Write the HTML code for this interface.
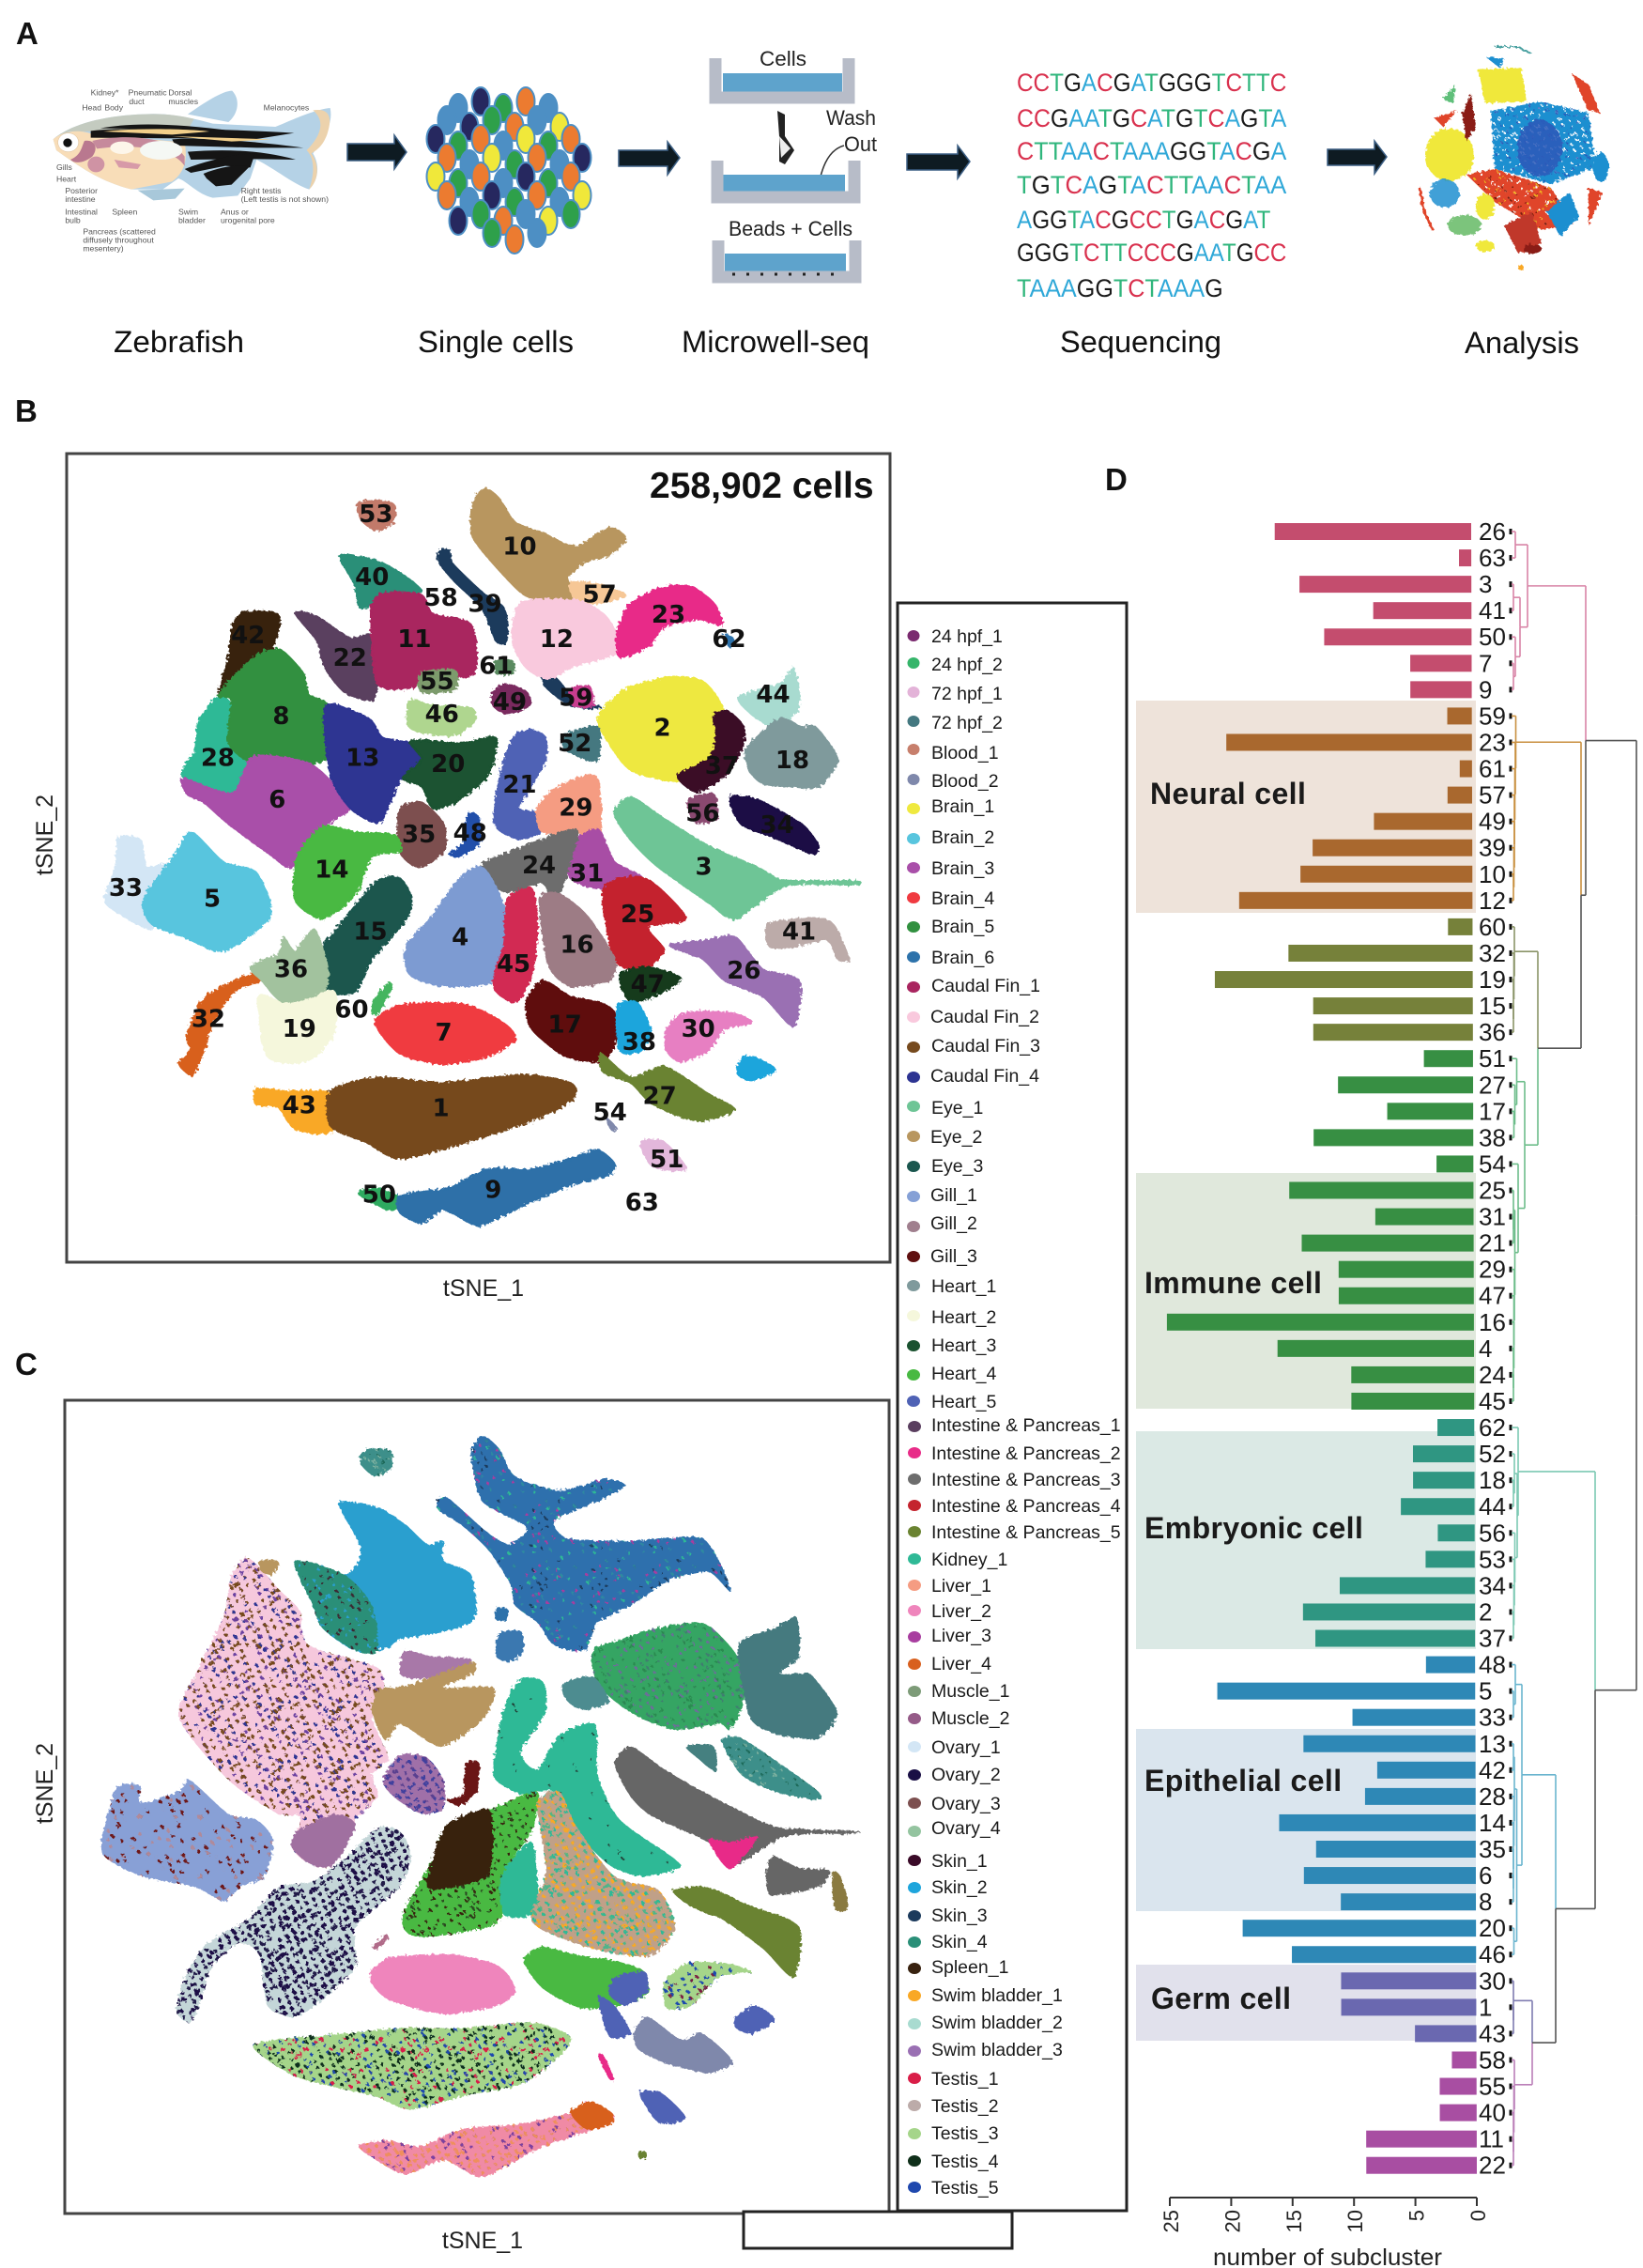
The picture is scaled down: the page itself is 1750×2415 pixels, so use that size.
<!DOCTYPE html>
<html lang="en">
<head>
<meta charset="utf-8">
<title>Zebrafish single-cell atlas figure</title>
<style>
html,body{margin:0;padding:0;background:#fff;}
svg{display:block;font-family:"Liberation Sans",sans-serif;}
.lg text{font-size:19.5px;fill:#1a1a1a;}
.pl{font-weight:bold;font-size:33px;fill:#111;}
.cap{font-size:32px;fill:#111;}
.tiny{font-size:26px;fill:#555;}
.cell-label{font-weight:bold;font-size:32px;fill:#1a1a1a;letter-spacing:.4px;}
</style>
</head>
<body>
<svg id="fig" xmlns="http://www.w3.org/2000/svg" width="1750" height="2415" viewBox="0 0 1750 2415">
<defs id="defs">
<filter id="rough" x="-2%" y="-2%" width="104%" height="104%"><feTurbulence type="fractalNoise" baseFrequency="0.3" numOctaves="2" seed="4" result="n"/><feDisplacementMap in="SourceGraphic" in2="n" scale="6"/></filter>
</defs>
<rect width="1750" height="2415" fill="#fff"/>

<text class="pl" x="17" y="47">A</text>
<text class="pl" x="16" y="449" font-size="30">B</text>
<text class="pl" x="16" y="1464">C</text>
<text class="pl" x="1177" y="522">D</text>

<!-- Panel A -->
<g id="panelA">
<g transform="translate(40,80) scale(.3333)">
<path d="M480,125 C530,90 590,50 622,50 C650,80 640,125 610,150 Z" fill="#b5d2e6"/>
<path d="M50,205 C90,170 180,130 340,125 C400,120 470,130 560,155 L760,165 C800,150 880,110 935,105 C945,150 920,200 880,250 C905,290 895,340 868,365 C820,350 760,300 700,270 L680,330 L640,385 L560,392 C510,380 480,340 450,330 L400,365 L300,365 C200,340 130,290 60,240 Z" fill="#b5d2e6"/>
<path d="M880,112 C930,105 945,130 925,190 C910,230 890,240 875,250 C905,290 895,340 868,365 C890,300 880,260 860,240 C900,200 925,150 880,112Z" fill="#ecd2ac"/>
<path d="M50,205 C90,170 180,130 340,125 C400,122 450,128 500,140 L480,175 L170,180 L100,180Z" fill="#c4cbc0"/>
<path d="M50,205 C80,180 130,170 180,190 L470,215 C480,270 470,310 430,340 L300,365 C200,340 130,290 60,240 Z" fill="#f8ddb8"/>
<path d="M170,178 C300,165 560,170 820,185 L700,204 L170,200Z" fill="#151515"/>
<path d="M200,170 C300,150 450,155 620,178 L400,172Z" fill="#151515"/>
<path d="M430,205 C500,200 650,205 850,232 L700,232 L440,225Z" fill="#151515"/>
<path d="M210,180 C350,165 520,175 550,180 L430,190Z M430,195 L750,205 L620,212Z" fill="#f2cf8a"/>
<path d="M480,245 C600,235 720,240 825,270 L700,268 L490,270Z" fill="#151515"/>
<path d="M470,300 C550,270 640,250 695,250 L680,295 L600,290 L490,312Z" fill="#151515"/>
<path d="M530,315 C590,290 650,285 680,290 L620,350 L570,355 L540,330Z" fill="#151515"/>
<ellipse cx="98" cy="215" rx="33" ry="30" fill="#fff" stroke="#c9a87c"/>
<circle cx="96" cy="216" r="14" fill="#111"/>
<path d="M150,210 C185,205 195,235 175,260 C150,280 120,285 105,270 C140,255 140,230 150,210Z" fill="#b9788f"/>
<ellipse cx="187" cy="285" rx="27" ry="25" fill="#cf93a4"/>
<path d="M175,210 C260,190 420,190 470,260 L470,290 C430,230 300,220 190,235Z" fill="#c68a9c"/>
<ellipse cx="270" cy="232" rx="38" ry="20" fill="#fdf6ea"/>
<ellipse cx="395" cy="240" rx="68" ry="30" fill="#f5f8f4"/>
<path d="M245,270 L330,285 L320,300 L260,295Z" fill="#d79aa8"/>
<path d="M320,368 L470,362 L440,395 L370,400Z" fill="#a8c8da"/>
<text class="tiny" x="170" y="65">Kidney*</text>
<text class="tiny" x="142" y="112">Head</text>
<text class="tiny" x="214" y="112">Body</text>
<text class="tiny" x="290" y="65">Pneumatic</text>
<text class="tiny" x="292" y="93">duct</text>
<text class="tiny" x="418" y="65">Dorsal</text>
<text class="tiny" x="418" y="93">muscles</text>
<text class="tiny" x="722" y="112">Melanocytes</text>
<text class="tiny" x="60" y="303">Gills</text>
<text class="tiny" x="60" y="340">Heart</text>
<text class="tiny" x="88" y="378">Posterior</text>
<text class="tiny" x="88" y="405">intestine</text>
<text class="tiny" x="88" y="445">Intestinal</text>
<text class="tiny" x="88" y="472">bulb</text>
<text class="tiny" x="238" y="445">Spleen</text>
<text class="tiny" x="450" y="445">Swim</text>
<text class="tiny" x="450" y="472">bladder</text>
<text class="tiny" x="585" y="445">Anus or</text>
<text class="tiny" x="585" y="472">urogenital pore</text>
<text class="tiny" x="650" y="378">Right testis</text>
<text class="tiny" x="650" y="405">(Left testis is not shown)</text>
<text class="tiny" x="145" y="508">Pancreas (scattered</text>
<text class="tiny" x="145" y="535">diffusely throughout</text>
<text class="tiny" x="145" y="562">mesentery)</text>
</g>
<g id="cellsGroup"></g>
<g transform="translate(-2,0)"><path d="M372,153H422V144L435,162L422,180V171H372Z" fill="#0e1b22" stroke="#3c5f84" stroke-width="1.5"/></g>
<g transform="translate(-3,0)"><path d="M662,160H714V151L727,168L714,186V177H662Z" fill="#0e1b22" stroke="#3c5f84" stroke-width="1.5"/></g>
<g transform="translate(-5,0)"><path d="M971,164H1025V155L1038,172L1025,190V181H971Z" fill="#0e1b22" stroke="#3c5f84" stroke-width="1.5"/></g>
<g transform="translate(-6,0)"><path d="M1420,159H1470V150L1483,167L1470,185V176H1420Z" fill="#0e1b22" stroke="#3c5f84" stroke-width="1.5"/></g>

<g transform="translate(-4,0)">
<g>
<rect x="774" y="78" width="127" height="26" fill="#5ea3cc"/>
<path d="M766,62V104H908V62" fill="none" stroke="#b7bcc8" stroke-width="13"/>
<text x="838" y="70" font-size="22" text-anchor="middle" fill="#222" textLength="50" lengthAdjust="spacingAndGlyphs">Cells</text>
</g>
<g><path d="M832,118L840,122V145L850,160L840,175L834,172V145Z" fill="#222"/><path d="M834,145L846,158L836,168Z" fill="#eee"/></g>
<path d="M903,155C885,160 878,180 873,212" fill="none" stroke="#333" stroke-width="1.5"/>
<text x="884" y="133" font-size="22" fill="#222" textLength="53" lengthAdjust="spacingAndGlyphs">Wash</text>
<text x="903" y="161" font-size="22" fill="#222" textLength="35" lengthAdjust="spacingAndGlyphs">Out</text>
<g>
<rect x="774" y="186" width="130" height="23" fill="#5ea3cc"/>
<path d="M768,171V210H914V171" fill="none" stroke="#b7bcc8" stroke-width="13"/>
</g>
<text x="780" y="251" font-size="22" fill="#222" textLength="132" lengthAdjust="spacingAndGlyphs">Beads + Cells</text>
<g>
<rect x="776" y="270" width="129" height="21" fill="#5ea3cc"/>
<path d="M769,256V295H915V256" fill="none" stroke="#b7bcc8" stroke-width="13"/>
<path d="M784,292h118" stroke="#222" stroke-width="3" stroke-dasharray="3 12"/>
</g>
</g>
<g id="seqGroup"></g>
<g transform="translate(-8,0)" filter="url(#rough)">
<path d="M1582,74L1628,72L1634,108L1590,110Z" fill="#f0e83a"/>
<path d="M1596,118L1650,108L1700,120L1708,178L1660,196L1600,180Z" fill="url(#pAnalysisB)"/>
<ellipse cx="1648" cy="158" rx="24" ry="30" fill="#2c58b8" opacity=".85"/>
<ellipse cx="1552" cy="165" rx="26" ry="28" fill="#f0e83a"/>
<path d="M1570,186L1600,180L1660,200L1684,238L1650,245L1600,215Z" fill="url(#pAnalysisR)"/>
<ellipse cx="1547" cy="206" rx="16" ry="15" fill="#1e8fd0" opacity=".85"/>
<ellipse cx="1590" cy="220" rx="10" ry="14" fill="#f0e83a"/>
<ellipse cx="1568" cy="240" rx="18" ry="11" fill="#7cc47c"/>
<ellipse cx="1713" cy="178" rx="8" ry="16" fill="#1e8fd0"/>
<path d="M1682,78L1700,90L1712,120L1700,118Z" fill="#e0452a"/>
<path d="M1565,120L1575,100L1580,135L1570,150Z" fill="#8a1a12"/>
<path d="M1592,62L1610,62L1605,72Z" fill="#1e8fd0"/>
<path d="M1545,105L1558,90L1556,110Z" fill="#5fbf7a"/>
<path d="M1655,225L1680,205L1690,230L1670,252Z" fill="#1e8fd0"/>
<path d="M1600,50L1625,50L1640,58" fill="none" stroke="#4aa0a0" stroke-width="2"/>
<path d="M1520,200L1525,225L1534,245" fill="none" stroke="#e0452a" stroke-width="3"/>
<path d="M1535,125L1560,118L1545,135" fill="#e0452a"/>
<path d="M1700,200L1715,205L1700,240Z" fill="#e0452a"/>
<path d="M1610,240L1640,225L1650,260L1625,270Z" fill="#c0392b"/>
<ellipse cx="1590" cy="262" rx="10" ry="6" fill="#f0e83a"/>
<ellipse cx="1640" cy="265" rx="10" ry="5" fill="#8a1a12"/>
<ellipse cx="1628" cy="285" rx="3" ry="3" fill="#f9a825"/>
</g>
<text class="cap" x="121" y="375" textLength="139" lengthAdjust="spacingAndGlyphs">Zebrafish</text>
<text class="cap" x="445" y="375" textLength="166" lengthAdjust="spacingAndGlyphs">Single cells</text>
<text class="cap" x="726" y="375" textLength="200" lengthAdjust="spacingAndGlyphs">Microwell-seq</text>
<text class="cap" x="1129" y="375" textLength="172" lengthAdjust="spacingAndGlyphs">Sequencing</text>
<text class="cap" x="1560" y="376" textLength="122" lengthAdjust="spacingAndGlyphs">Analysis</text>
</g>

<!-- Panel B -->
<g id="tsneB">
<g id="tsneBShapes" filter="url(#rough)"></g>
<g id="tsneBLabels"></g>
<rect x="71" y="483" width="877" height="861" fill="none" stroke="#444" stroke-width="3"/>
<text x="692" y="530" font-size="39" font-weight="bold" fill="#111">258,902 cells</text>
<text x="515" y="1380" font-size="25" text-anchor="middle" fill="#222">tSNE_1</text>
<text transform="translate(56,889) rotate(-90)" font-size="25" text-anchor="middle" fill="#222">tSNE_2</text>
</g>

<!-- Panel C -->
<g id="tsneC">
<g id="tsneCShapes" filter="url(#rough)"></g>
<rect x="69" y="1491" width="878" height="866" fill="none" stroke="#444" stroke-width="3"/>
<text x="514" y="2394" font-size="25" text-anchor="middle" fill="#222">tSNE_1</text>
<text transform="translate(56,1899) rotate(-90)" font-size="25" text-anchor="middle" fill="#222">tSNE_2</text>
</g>

<!-- Legend -->
<rect x="792" y="2355" width="286" height="39" fill="#fff" stroke="#222" stroke-width="3"/>
<g class="lg">
<rect x="956" y="642" width="244" height="1712" fill="#fff" stroke="#222" stroke-width="3"/>
<g><ellipse cx="973" cy="677" rx="6.5" ry="6" fill="#7a2a6f"/><text x="992" y="684">24 hpf_1</text></g>
<g><ellipse cx="973" cy="706" rx="6.5" ry="6" fill="#35b56a"/><text x="992" y="714">24 hpf_2</text></g>
<g><ellipse cx="973" cy="737" rx="6.5" ry="6" fill="#e3b3d8"/><text x="992" y="745">72 hpf_1</text></g>
<g><ellipse cx="973" cy="768" rx="6.5" ry="6" fill="#447880"/><text x="992" y="776">72 hpf_2</text></g>
<g><ellipse cx="973" cy="798" rx="6.5" ry="6" fill="#c77f6c"/><text x="992" y="808">Blood_1</text></g>
<g><ellipse cx="973" cy="830" rx="6.5" ry="6" fill="#7f88ab"/><text x="992" y="838">Blood_2</text></g>
<g><ellipse cx="973" cy="861" rx="7" ry="6" fill="#efe93f"/><text x="992" y="865">Brain_1</text></g>
<g><ellipse cx="973" cy="893" rx="7" ry="6" fill="#58c5de"/><text x="992" y="898">Brain_2</text></g>
<g><ellipse cx="973" cy="924" rx="7" ry="6" fill="#a94fa9"/><text x="992" y="931">Brain_3</text></g>
<g><ellipse cx="973" cy="956" rx="7" ry="6" fill="#f03a40"/><text x="992" y="963">Brain_4</text></g>
<g><ellipse cx="973" cy="987" rx="7" ry="6" fill="#31903f"/><text x="992" y="993">Brain_5</text></g>
<g><ellipse cx="973" cy="1019" rx="7" ry="6" fill="#2d72ab"/><text x="992" y="1026">Brain_6</text></g>
<g><ellipse cx="973" cy="1051" rx="7" ry="6" fill="#a9255f"/><text x="992" y="1056">Caudal Fin_1</text></g>
<g><ellipse cx="973" cy="1083" rx="7" ry="6" fill="#f9c9dd"/><text x="991" y="1089">Caudal Fin_2</text></g>
<g><ellipse cx="973" cy="1115" rx="7" ry="6" fill="#764a1e"/><text x="992" y="1120">Caudal Fin_3</text></g>
<g><ellipse cx="973" cy="1147" rx="7" ry="6" fill="#2d3492"/><text x="991" y="1152">Caudal Fin_4</text></g>
<g><ellipse cx="973" cy="1178" rx="7" ry="6" fill="#6ec596"/><text x="992" y="1186">Eye_1</text></g>
<g><ellipse cx="973" cy="1210" rx="7" ry="6" fill="#b8965f"/><text x="991" y="1217">Eye_2</text></g>
<g><ellipse cx="973" cy="1242" rx="7" ry="6" fill="#1a564e"/><text x="992" y="1248">Eye_3</text></g>
<g><ellipse cx="973" cy="1274" rx="7" ry="6" fill="#85a0d6"/><text x="991" y="1279">Gill_1</text></g>
<g><ellipse cx="973" cy="1306" rx="7" ry="6" fill="#a07f8e"/><text x="991" y="1309">Gill_2</text></g>
<g><ellipse cx="973" cy="1338" rx="7" ry="6" fill="#5f1010"/><text x="991" y="1344">Gill_3</text></g>
<g><ellipse cx="973" cy="1369" rx="7" ry="6" fill="#7f9a9c"/><text x="992" y="1376">Heart_1</text></g>
<g><ellipse cx="973" cy="1401" rx="7" ry="6" fill="#f5f7dc"/><text x="992" y="1409">Heart_2</text></g>
<g><ellipse cx="973" cy="1433" rx="7" ry="6" fill="#1a5230"/><text x="992" y="1439">Heart_3</text></g>
<g><ellipse cx="973" cy="1464" rx="7" ry="6" fill="#48b942"/><text x="992" y="1469">Heart_4</text></g>
<g><ellipse cx="973" cy="1492" rx="7" ry="6" fill="#4f62b5"/><text x="992" y="1499">Heart_5</text></g>
<g><ellipse cx="974" cy="1519" rx="7" ry="6" fill="#5a3f5f"/><text x="992" y="1524">Intestine &amp; Pancreas_1</text></g>
<g><ellipse cx="974" cy="1547" rx="7" ry="6" fill="#e82c88"/><text x="992" y="1554">Intestine &amp; Pancreas_2</text></g>
<g><ellipse cx="974" cy="1575" rx="7" ry="6" fill="#6d6d6d"/><text x="992" y="1582">Intestine &amp; Pancreas_3</text></g>
<g><ellipse cx="974" cy="1603" rx="7" ry="6" fill="#c4242e"/><text x="992" y="1610">Intestine &amp; Pancreas_4</text></g>
<g><ellipse cx="974" cy="1631" rx="7" ry="6" fill="#6a8331"/><text x="992" y="1638">Intestine &amp; Pancreas_5</text></g>
<g><ellipse cx="974" cy="1660" rx="7" ry="6" fill="#2fb996"/><text x="992" y="1667">Kidney_1</text></g>
<g><ellipse cx="974" cy="1688" rx="7" ry="6" fill="#f59c82"/><text x="992" y="1695">Liver_1</text></g>
<g><ellipse cx="974" cy="1715" rx="7" ry="6" fill="#ef85bc"/><text x="992" y="1722">Liver_2</text></g>
<g><ellipse cx="974" cy="1743" rx="7" ry="6" fill="#a83e9f"/><text x="992" y="1748">Liver_3</text></g>
<g><ellipse cx="974" cy="1772" rx="7" ry="6" fill="#d8601f"/><text x="992" y="1778">Liver_4</text></g>
<g><ellipse cx="974" cy="1801" rx="7" ry="6" fill="#7d9b78"/><text x="992" y="1807">Muscle_1</text></g>
<g><ellipse cx="974" cy="1830" rx="7" ry="6" fill="#955b88"/><text x="992" y="1836">Muscle_2</text></g>
<g><ellipse cx="974" cy="1860" rx="7" ry="6" fill="#d3e6f5"/><text x="992" y="1867">Ovary_1</text></g>
<g><ellipse cx="974" cy="1890" rx="7" ry="6" fill="#1a0f45"/><text x="992" y="1896">Ovary_2</text></g>
<g><ellipse cx="974" cy="1920" rx="7" ry="6" fill="#7d5050"/><text x="992" y="1927">Ovary_3</text></g>
<g><ellipse cx="974" cy="1950" rx="7" ry="6" fill="#94c4a0"/><text x="992" y="1953">Ovary_4</text></g>
<g><ellipse cx="974" cy="1981" rx="7" ry="6" fill="#3a0a28"/><text x="992" y="1988">Skin_1</text></g>
<g><ellipse cx="974" cy="2010" rx="7" ry="6" fill="#1ea5dc"/><text x="992" y="2016">Skin_2</text></g>
<g><ellipse cx="974" cy="2040" rx="7" ry="6" fill="#1b3a5c"/><text x="992" y="2046">Skin_3</text></g>
<g><ellipse cx="974" cy="2068" rx="7" ry="6" fill="#2a8f78"/><text x="992" y="2074">Skin_4</text></g>
<g><ellipse cx="974" cy="2096" rx="7" ry="6" fill="#38220f"/><text x="992" y="2101">Spleen_1</text></g>
<g><ellipse cx="974" cy="2125" rx="7" ry="6" fill="#f9a825"/><text x="992" y="2131">Swim bladder_1</text></g>
<g><ellipse cx="974" cy="2155" rx="7" ry="6" fill="#a8dbd0"/><text x="992" y="2160">Swim bladder_2</text></g>
<g><ellipse cx="974" cy="2184" rx="7" ry="6" fill="#9a70b3"/><text x="992" y="2189">Swim bladder_3</text></g>
<g><ellipse cx="974" cy="2213" rx="7" ry="6" fill="#d91e48"/><text x="992" y="2220">Testis_1</text></g>
<g><ellipse cx="974" cy="2242" rx="7" ry="6" fill="#bcaba9"/><text x="992" y="2249">Testis_2</text></g>
<g><ellipse cx="974" cy="2272" rx="7" ry="6" fill="#a5d58a"/><text x="992" y="2278">Testis_3</text></g>
<g><ellipse cx="974" cy="2301" rx="7" ry="6" fill="#0f2f1a"/><text x="992" y="2308">Testis_4</text></g>
<g><ellipse cx="974" cy="2329" rx="7" ry="6" fill="#1f48ae"/><text x="992" y="2336">Testis_5</text></g>
</g>

<!-- Panel D -->
<g id="panelD">
<rect x="1210" y="746" width="362" height="226" fill="#eee3da"/>
<rect x="1210" y="1249" width="362" height="251" fill="#e0e8dc"/>
<rect x="1210" y="1524" width="362" height="232" fill="#dbe9e5"/>
<rect x="1210" y="1841" width="362" height="194" fill="#dae5ee"/>
<rect x="1210" y="2092" width="362" height="81" fill="#e1e1ec"/>
<g id="bars"></g>
<g id="barLabels"></g>
<g id="dendro"></g>
<g id="xAxis"></g>
<text class="cell-label" x="1225" y="856">Neural cell</text>
<text class="cell-label" x="1219" y="1377">Immune cell</text>
<text class="cell-label" x="1219" y="1638">Embryonic cell</text>
<text class="cell-label" x="1219" y="1907">Epithelial cell</text>
<text class="cell-label" x="1226" y="2139">Germ cell</text>
<text x="1292" y="2412" font-size="25" fill="#222" textLength="244" lengthAdjust="spacingAndGlyphs">number of subcluster</text>
</g>
</svg>

<script>
/* ---------- Panel D data ---------- */
const barCategories = ['26','63','3','41','50','7','9','59','23','61','57','49','39','10','12','60','32','19','15','36','51','27','17','38','54','25','31','21','29','47','16','4','24','45','62','52','18','44','56','53','34','2','37','48','5','33','13','42','28','14','35','6','8','20','46','30','1','43','58','55','40','11','22'];
const barValues = [16,1,14,8,12,5,5,2,20,1,2,8,13,14,19,2,15,21,13,13,4,11,7,13,3,15,8,14,11,11,25,16,10,10,3,5,5,6,3,4,11,14,13,4,21,10,14,8,9,16,13,14,11,19,15,11,11,5,2,3,3,9,9];
const barGroups = ['pink','pink','pink','pink','pink','pink','pink','brown','brown','brown','brown','brown','brown','brown','brown','olive','olive','olive','olive','olive','green','green','green','green','green','green','green','green','green','green','green','green','green','green','teal','teal','teal','teal','teal','teal','teal','teal','teal','blue','blue','blue','blue','blue','blue','blue','blue','blue','blue','blue','blue','indigo','indigo','indigo','purple','purple','purple','purple','purple'];
const groupBarColors = {pink:'#c44d6e',brown:'#a9682e',olive:'#76813a',green:'#378f43',teal:'#2f9682',blue:'#2e88b6',indigo:'#6a68b0',purple:'#a84ea2'};
const groupLineColors = {pink:'#d884a6',brown:'#c98f3f',olive:'#8a9468',green:'#6dbd8a',teal:'#7cc9b3',blue:'#6ab5cf',indigo:'#7f7cb0',purple:'#bb7fb8'};
const xTickLabels = [25,20,15,10,5,0];
/* dendrogram: [merge height, child, child]; leaves are cluster ids */
const cladePink = [16,[3,'26','63'],[8,[1,'3','41'],[3,'50',[1,'7','9']]]];
const cladeBrown = [3.5,'59',[3,'23',[2.5,'61',[2,'57',[2,'49',[1.5,'39',[1,'10','12']]]]]]];
const cladeOlive = [2,'60',[1.5,'32',[1,'19',[1,'15','36']]]];
const cladeGreenA = [4.5,'51',[2.5,'27',[1.5,'17','38']]];
const cladeGreenB = [6,'54',[2.5,[1,'25',[1,'31','21']],[2,'29',[1.5,'47',[1.5,'16',[1,'4',[1,'24','45']]]]]]];
const cladeGreen = [13,cladeGreenA,cladeGreenB];
const cladeTeal = [6,'62',[5,[2,'52',[1,'18','44']],[2.5,'56',[2,'53',[1.5,'34',[1,'2','37']]]]]];
const cladeBlue = [10,[3,'48',[1,'5','33']],[4.5,[2,[1,'13','42'],[1.5,'28',[1,'14',[1,'35',[1,'6','8']]]]],[1.5,'20','46']]];
const cladeGerm = [1,'30',[1,'1','43']];
const cladePurple = [2,'58',[1.5,'55',[1,'40',[1,'11','22']]]];
const dendrogramTree = [132,[78,cladePink,[73,cladeBrown,[27,cladeOlive,cladeGreen]]],[88,cladeTeal,[46,cladeBlue,[21,cladeGerm,cladePurple]]]];

/* ---------- Panel B / C data (tSNE units) ---------- */
const clusterOutlines = [
['53','#c27a6a',[565,115,600,110,630,118,628,150,598,165,570,145]],
['10','#b8965f',[775,110,795,88,820,105,850,150,900,170,960,195,1020,160,1050,180,1020,210,975,225,945,255,960,290,900,295,860,280,800,215,770,170]],
['57','#f6c796',[950,262,1000,265,1050,285,1000,300,960,295]],
['39','#1b3a5c',[712,205,730,200,735,225,790,280,830,310,835,370,815,370,790,310,740,260,712,225]],
['40','#2a8f78',[532,212,600,222,650,250,680,280,620,285,570,310,558,265]],
['22','#5a3f5f',[450,318,490,325,550,365,590,360,600,440,590,480,540,465,505,420,490,370]],
['11','#a9255f',[590,300,620,280,680,285,700,320,770,340,775,430,700,440,650,460,600,450,590,380]],
['42','#38220f',[335,350,355,318,420,322,410,380,360,420,312,470,330,400]],
['28','#2fb996',[275,520,310,475,335,490,330,560,375,590,340,650,300,645,245,620,270,570]],
['8','#31903f',[312,470,370,405,420,385,465,430,475,470,510,490,515,580,470,600,380,600,330,560,335,480]],
['6','#a94fa9',[245,625,300,645,340,650,375,585,470,595,515,630,550,680,510,710,480,760,440,790,410,770,330,710,285,670,255,655]],
['13','#2d3492',[505,490,585,515,610,550,670,560,680,590,640,630,610,700,590,705,550,680,515,620]],
['20','#1a5230',[660,555,750,560,815,550,800,620,740,670,700,680,680,640,645,625,680,590]],
['46','#afd68f',[660,480,700,490,770,495,775,520,740,545,680,540,655,525]],
['55','#7d9b6c',[680,430,740,425,740,460,680,465]],
['61','#5a8a60',[815,408,845,408,845,430,815,430]],
['49','#7a2a5f',[810,465,835,450,870,465,875,490,835,505,810,490]],
['59a','#1b3a5c',[900,430,925,440,960,480,1000,490,1000,495,950,490,905,455]],
['59','#c83e8f',[950,460,985,455,990,490,955,490]],
['12','#f9c9dd',[845,370,860,300,960,295,1010,320,1035,360,1030,395,960,415,910,440,870,420]],
['23','#e82c88',[1035,350,1060,300,1120,270,1170,270,1210,300,1225,340,1180,330,1120,345,1090,380,1040,400]],
['62','#2d72ab',[1228,360,1245,365,1240,382]],
['2','#eee840',[1000,510,1050,460,1130,438,1190,445,1225,490,1230,540,1210,610,1140,630,1060,610,1020,560]],
['44','#a8dbd0',[1255,475,1330,450,1355,420,1365,490,1330,530,1290,515]],
['37','#3a0a28',[1210,510,1235,500,1265,530,1260,570,1230,620,1180,650,1145,620,1200,590,1215,550]],
['34','#1a0f45',[1240,660,1290,665,1370,710,1400,750,1390,765,1320,735,1260,710]],
['18','#7f9a9c',[1270,570,1330,515,1370,530,1395,530,1435,590,1400,640,1350,640,1300,635,1275,610]],
['56','#8a4a70',[1165,665,1210,655,1215,700,1175,705]],
['52','#447880',[940,545,1000,530,1000,590,980,590,940,570]],
['21','#4f62b5',[850,545,880,535,905,550,905,590,880,640,855,680,890,690,900,720,860,738,815,715,815,660,830,590]],
['29','#f59c82',[890,680,930,640,995,620,1005,690,1000,735,960,725,900,725]],
['31','#a84ea5',[950,750,1000,720,1030,780,1080,810,1010,830,950,810]],
['24','#6d6d6d',[785,790,870,750,960,720,950,780,920,860,900,820,830,835]],
['25','#c4242e',[1010,830,1085,810,1160,885,1090,900,1120,945,1080,980,1030,960]],
['16','#9d7c85',[895,850,930,840,980,880,1030,960,1020,1000,950,1010,910,970]],
['4','#7d9bd2',[650,940,700,880,750,810,790,790,825,850,835,920,810,1000,720,1010,660,990]],
['45','#d22a52',[835,850,880,830,890,900,880,990,850,1040,810,1010,830,930]],
['48','#2050aa',[730,765,755,745,765,690,785,700,785,745,750,770]],
['35','#7d5050',[640,685,680,670,720,710,720,760,675,790,640,760]],
['14','#48b942',[455,770,500,715,560,725,630,730,640,760,590,770,560,840,500,885,450,850]],
['33','#d3e6f5',[130,735,170,740,180,790,220,785,180,850,190,905,130,875,105,850,125,790]],
['5','#58c5de',[175,850,230,770,262,725,320,780,380,800,405,880,320,945,250,920,190,895]],
['15','#1a564e',[495,950,545,880,600,815,640,810,662,850,650,890,590,960,560,1020,510,1020]],
['32','#d8601f',[380,985,320,1010,280,1040,255,1100,260,1130,240,1155,265,1175,285,1130,300,1080,340,1020,390,1000]],
['19','#f5f7dc',[385,1030,430,1040,520,1020,520,1100,470,1150,400,1140]],
['36','#a2c29e',[370,975,420,950,430,920,450,945,485,905,510,980,500,1020,430,1040,390,1000]],
['60','#45b55f',[595,1035,620,1005,625,1015,600,1060,590,1060]],
['7','#f03b40',[595,1075,650,1045,760,1045,830,1080,850,1110,800,1140,720,1155,640,1135]],
['17','#5f1010',[870,1040,900,1000,950,1030,1000,1040,1030,1060,1030,1120,1000,1150,940,1140,880,1090]],
['47','#123a1f',[1040,990,1090,975,1150,995,1120,1020,1060,1040]],
['38','#1ea5dc',[1035,1050,1070,1040,1095,1090,1080,1130,1040,1130]],
['30','#e77fc2',[1125,1090,1160,1060,1240,1060,1280,1078,1230,1090,1200,1130,1150,1150,1125,1130]],
['64','#1da5dc',[1255,1155,1275,1140,1322,1165,1280,1185,1255,1175]],
['26','#9a70b3',[1130,935,1200,925,1250,920,1300,980,1365,1000,1355,1085,1300,1030,1230,1000,1190,960]],
['41','#bcaba9',[1310,895,1400,885,1430,900,1455,960,1435,960,1415,925,1340,940,1310,935]],
['3','#6ec596',[1030,690,1060,660,1120,700,1200,750,1290,790,1340,815,1465,815,1465,822,1340,825,1250,885,1200,855,1110,790,1060,740]],
['27','#6a8331',[1005,1135,1060,1180,1120,1160,1200,1210,1248,1240,1180,1260,1100,1230,1060,1190,1010,1170]],
['43','#f9a825',[380,1200,430,1205,515,1210,515,1280,450,1275,420,1235,380,1230]],
['1','#764a1e',[515,1205,600,1180,720,1190,860,1175,950,1190,955,1220,880,1260,760,1300,640,1330,580,1300,515,1270]],
['54','#7f88ab',[1015,1255,1032,1272,1026,1278]],
['51','#e3b7db',[1078,1300,1120,1300,1160,1350,1100,1345]],
['50','#2faa60',[565,1395,600,1385,650,1410,620,1425]],
['9','#2d6fa8',[640,1400,690,1390,730,1385,800,1350,880,1350,950,1330,1000,1315,1030,1340,1020,1360,950,1380,880,1410,820,1440,780,1455,720,1425,680,1450,640,1430]]
];
const clusterLabelNames = ['53','10','57','58','39','40','11','12','23','62','42','22','61','55','49','59','46','8','2','44','52','28','13','20','18','21','6','29','56','37','34','35','48','14','3','24','31','33','5','25','15','41','4','16','45','36','26','47','60','32','19','30','17','7','38','27','43','1','54','51','9','50','63'];
const clusterLabelX = [597,858,1003,715,795,590,667,925,1128,1238,365,550,815,708,840,960,717,425,1117,1318,958,310,573,728,1353,858,418,960,1190,1225,1325,675,768,517,1192,893,980,143,300,1072,587,1365,750,962,847,443,1265,1090,553,293,458,1182,940,720,1075,1112,458,715,1022,1125,810,603,1080];
const clusterLabelY = [133,193,282,288,300,250,365,365,320,365,358,400,415,443,482,474,504,508,530,468,558,585,585,597,590,635,663,678,688,600,710,727,725,793,787,785,800,827,847,875,908,908,918,932,968,977,980,1005,1052,1070,1088,1088,1080,1095,1112,1212,1230,1235,1243,1330,1387,1395,1410];
const sampleRegions = [
['embryo-islet','url(#pMini)',[570,130,590,120,625,125,625,155,595,170,570,150]],
['brain-6-neural','url(#pBlueTop)',[770,130,790,98,820,120,850,170,930,195,1010,175,1050,185,1020,205,975,225,920,250,945,280,1050,285,1120,280,1190,280,1225,330,1240,375,1200,340,1130,355,1060,400,1000,430,975,480,920,470,890,430,850,400,840,360,800,300,750,255,710,230,710,210,730,210,800,270,840,290,870,260,790,215]],
['skin-2','#2a9fcf',[530,218,600,225,650,255,690,290,720,285,720,320,770,345,775,425,700,450,640,460,620,475,560,480,500,440,480,395,450,320,540,345,570,300]],
['skin-4','url(#pTeal)',[450,320,540,345,590,400,600,480,560,480,500,440,480,395]],
['neural-patch-a','#2d72ab',[815,405,835,405,835,425,815,425]],
['neural-patch-b','#3a78b0',[820,450,860,445,865,480,840,500,815,490]],
['caudal-fin-mix','url(#pPink)',[335,345,360,315,385,330,420,370,460,410,475,470,600,510,610,560,590,600,620,670,590,700,600,740,560,780,520,860,480,860,445,830,460,775,420,770,330,710,240,600,270,520,320,420]],
['eye-2-cap','#b8965f',[385,320,420,322,410,345,390,340]],
['muscle-2-top','#a878a8',[650,480,700,490,770,495,745,520,670,530,640,520]],
['eye-2','#b8965f',[600,550,660,540,770,500,775,520,720,545,810,545,800,590,770,620,720,650,690,640,640,610,615,640,590,590]],
['muscle-2-mid','url(#pViolet)',[610,710,640,665,690,670,720,710,720,760,680,770,630,740]],
['muscle-2-low','#a070a0',[455,800,520,770,560,790,520,860,480,860,445,830]],
['gill-3-hook','#6a1515',[725,745,755,735,760,680,785,680,780,730,750,755]],
['gill-1','url(#pGill)',[110,770,130,720,170,720,170,750,240,730,260,710,330,770,380,780,410,815,395,880,350,900,320,925,270,900,170,880,100,840]],
['ovary','url(#pOvary)',[250,1060,290,1000,360,960,420,900,480,890,540,850,600,795,640,800,660,840,640,900,560,970,560,1040,500,1100,450,1130,400,1110,385,1020,350,1000,300,1040,280,1100,260,1140,235,1120]],
['liver-2','#ef85bc',[585,1060,620,1025,740,1020,820,1040,850,1080,820,1110,720,1125,620,1100]],
['liver-sliver','#b06a88',[590,1005,615,985,620,990,600,1010]],
['testis','url(#pTestis)',[375,1180,420,1170,540,1160,640,1150,760,1150,880,1140,950,1165,930,1200,860,1250,760,1270,660,1295,590,1270,460,1240,390,1200]],
['liver-low','url(#pSalmon)',[565,1358,620,1350,680,1360,750,1330,860,1320,950,1300,980,1280,1025,1300,1025,1320,960,1340,880,1370,790,1415,720,1385,650,1410,590,1380]],
['liver-4-head','#d8601f',[950,1300,985,1280,1025,1300,1025,1320,980,1330]],
['ip2-line','#e82c88',[1000,1200,1010,1198,1030,1240,1020,1240]],
['heart-5-low','#4f62b5',[1075,1265,1115,1265,1160,1310,1110,1318]],
['ip5-dot','#6a8331',[1075,1370,1087,1370,1087,1382,1075,1382]],
['blood-2','#7f88ab',[1065,1160,1090,1130,1150,1170,1190,1160,1245,1210,1200,1230,1130,1215,1075,1190]],
['testis-3-drop','url(#pLeaf)',[1120,1070,1160,1035,1230,1035,1280,1050,1220,1060,1170,1110,1125,1115]],
['heart-5-islet','#4f62b5',[1250,1130,1285,1110,1322,1135,1280,1160,1250,1150]],
['heart-4','#48b942',[865,1030,900,1005,960,1020,1030,1030,1085,1050,1090,1090,1040,1110,970,1115,900,1080]],
['heart-5-a','#4f62b5',[1030,1060,1085,1050,1090,1085,1050,1110,1020,1090]],
['heart-5-b','#4f62b5',[1000,1095,1030,1110,1060,1160,1020,1165]],
['heart-4-left','url(#pMoss)',[645,950,700,850,720,800,810,760,890,730,880,800,840,860,820,960,720,985,660,985]],
['spleen','#38220f',[700,850,725,790,800,760,810,820,800,880,740,900,690,900]],
['kidney','url(#pKid)',[810,680,830,580,860,530,900,535,905,590,860,660,890,690,930,630,995,610,1000,700,1040,780,1150,860,1080,880,1020,860,950,790,920,730,860,735,815,710]],
['kidney-low','#2fb996',[825,880,880,820,890,940,830,950]],
['swim-bladder-mix','url(#pMix)',[890,750,930,730,960,790,1030,880,1110,905,1140,970,1100,1020,1040,1020,960,1000,880,960,905,870]],
['ip3','#666666',[1030,680,1060,650,1120,690,1200,735,1290,780,1340,795,1465,800,1465,805,1340,810,1240,865,1200,820,1100,775,1060,740]],
['ip2-tip','#e82c88',[1200,815,1240,820,1290,810,1240,868]],
['ip3-low','#666666',[1305,870,1320,845,1365,865,1420,870,1400,900,1320,915,1308,905]],
['ip5-tail','#8a7a40',[1425,875,1440,880,1455,935,1430,940]],
['ip5','#6a8331',[1135,905,1200,900,1270,930,1365,970,1355,1060,1300,1010,1230,960,1170,935]],
['hpf24','url(#pGreen)',[990,480,1040,460,1130,435,1200,435,1260,500,1265,570,1240,620,1220,610,1140,620,1060,590,1000,540]],
['hpf72-hook','#4d8c90',[935,540,990,525,1020,570,975,585,945,570]],
['hpf72','#457a7f',[1255,470,1320,440,1360,420,1365,490,1330,520,1370,520,1390,525,1435,590,1400,635,1330,630,1285,610,1270,580]],
['hpf72-tail','url(#pMini)',[1225,640,1260,635,1330,680,1400,730,1395,745,1320,730,1260,700]],
['hpf72-spur','#448080',[1160,650,1210,650,1215,695,1180,670]]
];
/* workflow illustration strings */
const seqLines = ['CCTGACGATGGGTCTTC','CCGAATGCATGTCAGTA','CTTAACTAAAGGTACGA','TGTCAGTACTTAACTAA','AGGTACGCCTGACGAT','GGGTCTTCCCGAATGCC','TAAAGGTCTAAAG'];
const seqBaseColors = {A:'#2fa8d8',C:'#d9314e',G:'#1a1a1a',T:'#2fb67c'};
const cellColors = ['#4d8fc4','#ec7b30','#2ea04a','#26285f','#4d8fc4','#ec7b30','#2ea04a','#f0e83a'];
/* speckle textures: id, base colour, dot colours, dots per tile, dot radius */
const speckleTextures = [
['pBlueTop','#2f70ad',['#a83e9f','#2fb996','#1b3a5c','#2f8aa0'],70,1.5],
['pPink','#f6c8dc',['#2d3492','#764a1e','#6a3fa0','#764a1e'],170,1.8],
['pGill','#88a0d6',['#6d1414','#b08a9a','#88a0d6'],65,1.9],
['pOvary','#c4d6d8',['#1a0f45','#241a4a','#1a0f45'],210,2.1],
['pTestis','#a5d58a',['#0f2f1a','#1f48ae','#0f2f1a','#d91e48'],170,1.7],
['pSalmon','#f08aa5',['#ef8f5c','#ef8f5c','#7b3fa0'],170,1.7],
['pGreen','#35a563',['#3f7d70','#6d6d9a','#2a8a50'],110,1.5],
['pTeal','#2a8f78',['#3a2a30','#2a9fcf'],100,1.5],
['pMix','#c0a088',['#f9a825','#f9a825','#4fb48a','#2fb996'],200,1.9],
['pViolet','#a070a8',['#3f3f9e','#3f3f9e','#5a3f8f'],220,1.7],
['pMoss','#48b942',['#2a4a20','#38220f'],110,1.5],
['pLeaf','#a5d58a',['#1f48ae','#1f48ae','#7a1a40'],120,1.8],
['pMini','#3d8f8a',['#1f6a5a','#7ab0a0'],150,1.2],
['pKid','#2fb996',['#24443a','#2fb996'],22,1.2],
['pAnalysisB','#1e8fd0',['#ffffff','#2c58b8','#ffffff'],400,1],
['pAnalysisR','#e0452a',['#ffffff','#7a1a10','#f0b020'],320,1.1]
];

/* ---------- helpers ---------- */
const NS = 'http://www.w3.org/2000/svg';
function make(tag, parentId, props){
  const el = document.createElementNS(NS, tag);
  for (const k in props) el.setAttribute(k, props[k]);
  document.getElementById(parentId).appendChild(el);
  return el;
}
/* irregular (but fixed) dot placement for the textures */
speckleTextures.forEach(function(t, ti){
  const TILE = 64;
  const pat = document.createElementNS(NS, 'pattern');
  pat.setAttribute('id', t[0]);
  pat.setAttribute('width', TILE);
  pat.setAttribute('height', TILE);
  pat.setAttribute('patternUnits', 'userSpaceOnUse');
  let s = '<rect width="' + TILE + '" height="' + TILE + '" fill="' + t[1] + '"/>';
  let seed = 977 + ti * 131;
  for (let i = 0; i < t[3]; i++){
    seed = (seed * 1103515245 + 12345) % 2147483648;
    const x = (seed >> 8) % TILE;
    seed = (seed * 1103515245 + 12345) % 2147483648;
    const y = (seed >> 8) % TILE;
    s += '<circle cx="' + x + '" cy="' + y + '" r="' + t[4] + '" fill="' + t[2][i % t[2].length] + '"/>';
  }
  pat.innerHTML = s;
  document.getElementById('defs').appendChild(pat);
});
/* axes */
const BAR_TOP = 566, BAR_STEP = 28.06, PX_PER_UNIT = 13.08;
function yBar(i){ return BAR_TOP + i * BAR_STEP; }
function barBase(i){ return 1567 + i * 6 / 62; }
function xAxisValue(v){ return 1573 - v * PX_PER_UNIT; }
function xTsne(v){ return 50 + v / 1.704; }
function yTsneB(v){ return 470 + v / 1.742; }
function yTsneC(v){ return 1470 + v / 1.668; }
function blobPath(pts, fx, fy){
  const P = [];
  for (let i = 0; i < pts.length; i += 2) P.push([fx(pts[i]), fy(pts[i + 1])]);
  const n = P.length, T = 0.75 / 6;
  let d = 'M' + P[0][0].toFixed(1) + ',' + P[0][1].toFixed(1);
  for (let i = 0; i < n; i++){
    const p0 = P[(i + n - 1) % n], p1 = P[i], p2 = P[(i + 1) % n], p3 = P[(i + 2) % n];
    d += 'C' + (p1[0] + (p2[0] - p0[0]) * T).toFixed(1) + ',' + (p1[1] + (p2[1] - p0[1]) * T).toFixed(1) +
         ' ' + (p2[0] - (p3[0] - p1[0]) * T).toFixed(1) + ',' + (p2[1] - (p3[1] - p1[1]) * T).toFixed(1) +
         ' ' + p2[0].toFixed(1) + ',' + p2[1].toFixed(1);
  }
  return d + 'Z';
}

/* ---------- panel B ---------- */
clusterOutlines.forEach(function(c){
  const p = make('path', 'tsneBShapes', {d: blobPath(c[2], xTsne, yTsneB), fill: c[1], stroke: c[1], 'stroke-width': 2, 'stroke-linejoin': 'round'});
  
  
});
clusterLabelNames.forEach(function(name, i){
  const t = make('text', 'tsneBLabels', {x: xTsne(clusterLabelX[i]), y: yTsneB(clusterLabelY[i]) + 9.5, 'text-anchor': 'middle', 'font-size': 26, 'font-weight': 'bold', 'font-family': '"DejaVu Sans",sans-serif', fill: '#111'});
  t.textContent = name;
  
  
});

/* ---------- panel C ---------- */
sampleRegions.forEach(function(c){
  const p = make('path', 'tsneCShapes', {d: blobPath(c[2], xTsne, yTsneC), fill: c[1]});
  
  
});

/* ---------- panel D bars ---------- */
barCategories.forEach(function(cat, i){
  const w = barValues[i] * PX_PER_UNIT;
  const r = make('rect', 'bars', {x: barBase(i) - w, y: yBar(i) - 9, width: w, height: 18, fill: groupBarColors[barGroups[i]]});
  
  
  const t = make('text', 'barLabels', {x: 1575, y: yBar(i) + 9, 'font-size': 26, fill: '#1a1a1a'});
  t.textContent = cat;
  
  
  const k = make('rect', 'barLabels', {x: 1607.5, y: yBar(i) - 3, width: 3, height: 6, fill: '#111'});
  
  
});

/* ---------- dendrogram ---------- */
const LEAF_X = 1611;
function line(x1, y1, x2, y2, color){
  const l = make('line', 'dendro', {x1: x1, y1: y1, x2: x2, y2: y2, stroke: color, 'stroke-width': 1.6});
  
  
}
function drawNode(node){
  if (typeof node === 'string'){
    const i = barCategories.indexOf(node);
    return {x: LEAF_X - 1, y: yBar(i), group: barGroups[i]};
  }
  const a = drawNode(node[1]), b = drawNode(node[2]);
  const x = LEAF_X + node[0], y = (a.y + b.y) / 2;
  const ca = a.group ? groupLineColors[a.group] : '#555';
  const cb = b.group ? groupLineColors[b.group] : '#555';
  line(a.x, a.y, x, a.y, ca);
  line(b.x, b.y, x, b.y, cb);
  line(x, a.y, x, y, ca);
  line(x, y, x, b.y, cb);
  return {x: x, y: y, group: a.group === b.group ? a.group : null};
}
drawNode(dendrogramTree);

/* ---------- panel D axis ---------- */
const axisLine = make('line', 'xAxis', {x1: xAxisValue(25), y1: 2340, x2: xAxisValue(0), y2: 2340, stroke: '#333', 'stroke-width': 2});


xTickLabels.forEach(function(v){
  const x = xAxisValue(v);
  const tick = make('line', 'xAxis', {x1: x, y1: 2340, x2: x, y2: 2349, stroke: '#333', 'stroke-width': 2});
  
  
  const t = make('text', 'xAxis', {transform: 'translate(' + (x + 9) + ',2353) rotate(-90)', 'text-anchor': 'end', 'font-size': 22, fill: '#222'});
  t.textContent = v;
  
  
});

/* ---------- workflow illustrations ---------- */
seqLines.forEach(function(s, i){
  const yRow = [97, 135, 170, 206, 243, 278, 316][i];
  const t = make('text', 'seqGroup', {x: 1083, y: yRow, 'font-size': 27, textLength: s.length * 16.9, lengthAdjust: 'spacingAndGlyphs'});
  
  
  s.split('').forEach(function(ch){
    const sp = document.createElementNS(NS, 'tspan');
    sp.setAttribute('fill', seqBaseColors[ch]);
    sp.textContent = ch;
    t.appendChild(sp);
  });
});
(function(){
  let n = 0;
  for (let r = 0; r < 8; r++){
    for (let c = 0; c < 7; c++){
      const x = 464 + c * 24 + (r % 2) * 12;
      const y = 108 + r * 20 + (c % 2) * 7;
      const dx = (x - 541) / 84, dy = (y - 172) / 82;
      if (dx * dx + dy * dy > 1.15) continue;
      const e = make('ellipse', 'cellsGroup', {cx: x, cy: y, rx: 9.5, ry: 15, fill: cellColors[(n * 3 + r) % cellColors.length], stroke: '#4d8fc4', 'stroke-width': 2});
      
      
      n++;
    }
  }
})();
</script>
</body>
</html>
